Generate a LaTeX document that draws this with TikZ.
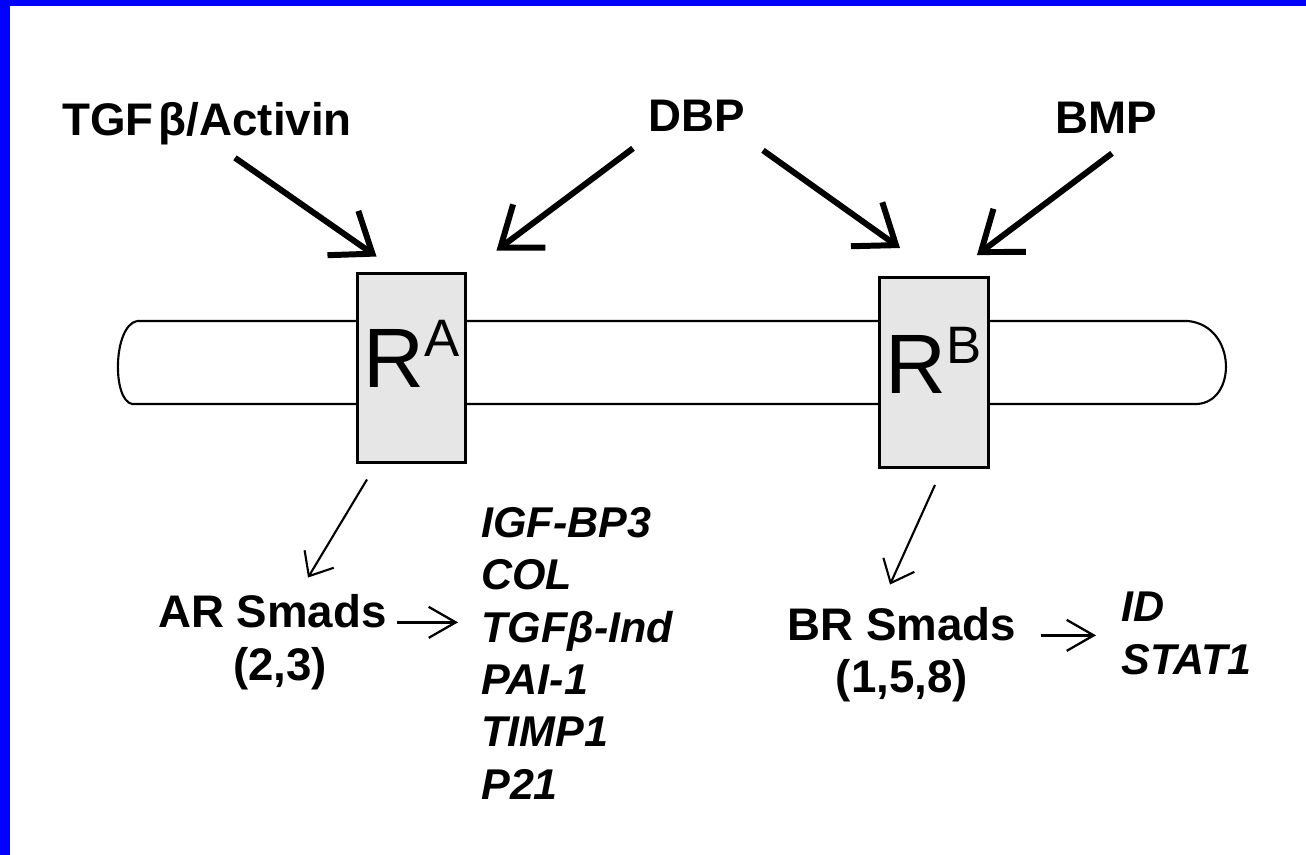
\documentclass[tikz,border=0pt]{standalone}
\usepackage{fontspec}
\setmainfont{Liberation Sans}
\usepackage{tikz}
\usetikzlibrary{arrows.meta, positioning, calc}
\definecolor{slideblue}{RGB}{0, 0, 255}
\definecolor{boxgray}{RGB}{230, 230, 230}

\tikzset{
  biglabel/.style={font=\fontsize{26}{31}\selectfont\bfseries, inner sep=0pt},
  genelist/.style={font=\fontsize{24.5}{29.8}\selectfont\bfseries\itshape, align=left, inner sep=0pt},
  receptor/.style={draw=black, line width=1.7pt, fill=boxgray, minimum width=2.18cm, minimum height=3.8cm, inner sep=0pt},
  rtext/.style={font=\fontsize{48}{50}\selectfont, inner sep=0pt, anchor=base},
  bigarrow/.style={-{Straight Barb[length=0.72cm, width=1.08cm]}, line width=3.4pt},
  thinarrow/.style={-{Straight Barb[length=0.4cm, width=0.68cm]}, line width=1.2pt},
  sidearrow/.style={-{Straight Barb[length=0.54cm, width=0.62cm]}, line width=1.3pt}
}

\begin{document}
\begin{tikzpicture}[x=0.02cm, y=-0.02cm]
    \useasboundingbox (0,0) rectangle (1306,855);
    % --- Ramka slajdu ---
    \fill[slideblue] (0,0) rectangle (10,855);
    \fill[slideblue] (0,0) rectangle (1306,6);

    % --- Membrana (rurka) ---
    \draw[line width=1.2pt] (137,321) -- (1188,321) .. controls (1237,326) and (1237,402) .. (1197,404) -- (132,404) .. controls (112,400) and (113,326) .. (137,321);

    % --- Receptory ---
    \node[receptor] (ra) at (411.5,368) {};
    \node[receptor] (rb) at (934,372.5) {};
    \node[rtext] (ratext) at ($(ra.center)+(0,19)$) {R\raisebox{17.5pt}{\fontsize{30}{30}\selectfont A}};
    \node[rtext] (rbtext) at ($(rb.center)+(0,20.5)$) {R\raisebox{17pt}{\fontsize{30}{30}\selectfont B}};

    % --- Ligandy u gory ---
    \node[biglabel, anchor=base] (tgf) at (207,135) {TGF\kern3pt β/Activin};
    \node[biglabel, anchor=base] (dbp) at (697,132) {DBP};
    \node[biglabel, anchor=base] (bmp) at (1106,133) {BMP};

    \draw[bigarrow] ($(tgf.south)+(28,13)$) -- ($(ra.north west)+(21,-15)$);
    \draw[bigarrow] ($(dbp.south)+(-64,16)$) -- ($(ra.north east)+(29,-21)$);
    \draw[bigarrow] ($(dbp.south)+(66,18)$) -- ($(rb.north west)+(22,-28)$);
    \draw[bigarrow] ($(bmp.south)+(6,20)$) -- ($(rb.north east)+(-13,-21)$);

    % --- Smady ---
    \node[biglabel, anchor=base] (arsmads) at (272.5,627) {AR Smads};
    \node[biglabel, below=0.38cm of arsmads, xshift=0.15cm] (arnums) {(2,3)};
    \node[biglabel, anchor=base] (brsmads) at (902,640) {BR Smads};
    \node[biglabel, below=0.36cm of brsmads] (brnums) {(1,5,8)};

    \draw[thinarrow] ($(ra.south)+(-44.5,15)$) -- ($(arsmads.north)+(35.5,-16)$);
    \draw[thinarrow] ($(rb.south)+(1,16)$) -- ($(brsmads.north)+(-12,-22)$);

    % --- Geny docelowe ---
    \node[genelist, anchor=north west] (genes) at (481,507) {IGF-BP3\\COL\\TGFβ-Ind\\PAI-1\\TIMP1\\P21};
    \node[genelist, anchor=north west] (idgenes) at (1121,592) {ID\\STAT1};

    \draw[sidearrow, shorten <=0.2cm, shorten >=0.46cm] (arsmads.mid east) -- (arsmads.mid east -| genes.west);
    \draw[sidearrow, shorten <=0.48cm, shorten >=0.5cm] (brsmads.mid east) -- (brsmads.mid east -| idgenes.west);
\end{tikzpicture}
\end{document}
